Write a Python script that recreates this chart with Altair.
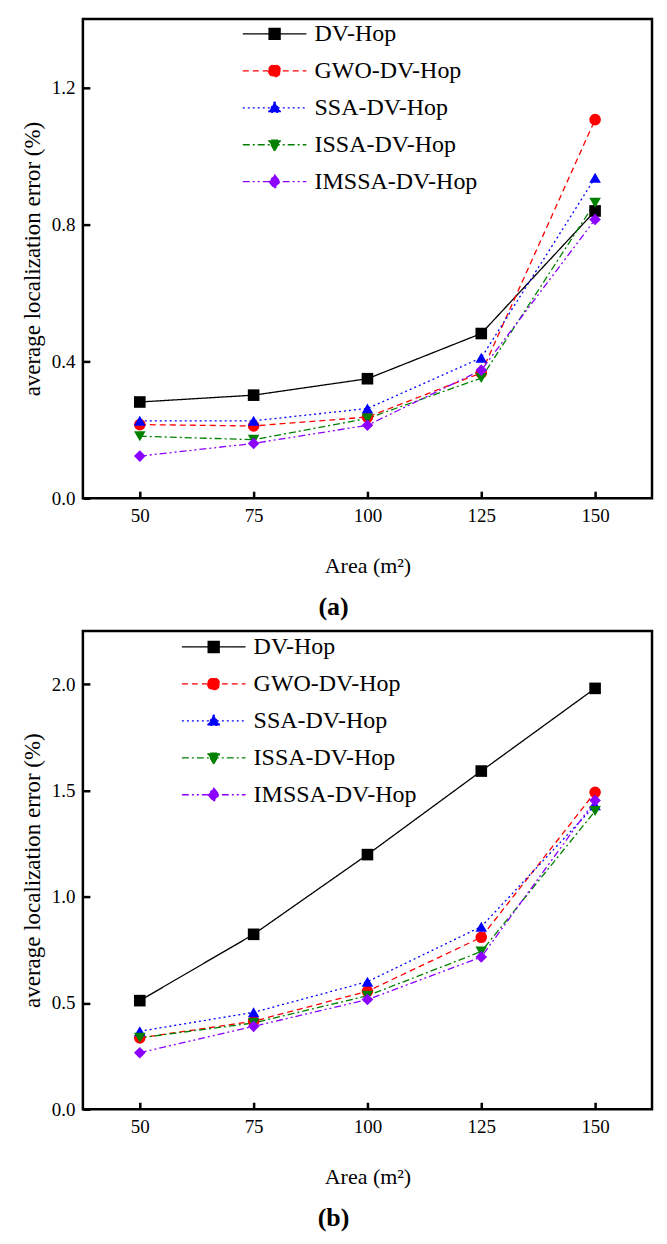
import altair as alt
import pandas as pd

# ---------------- data ----------------
areas = [50, 75, 100, 125, 150]
series = ["DV-Hop", "GWO-DV-Hop", "SSA-DV-Hop", "ISSA-DV-Hop", "IMSSA-DV-Hop"]

a_dv = [0.281, 0.301, 0.349, 0.481, 0.839]
a_gwo = [0.215, 0.211, 0.237, 0.366, 1.106]
a_ssa = [0.226, 0.226, 0.262, 0.410, 0.936]
a_issa = [0.181, 0.171, 0.233, 0.351, 0.863]
a_imssa = [0.123, 0.160, 0.213, 0.374, 0.814]

b_dv = [0.511, 0.823, 1.198, 1.591, 1.980]
b_gwo = [0.336, 0.414, 0.555, 0.809, 1.491]
b_ssa = [0.367, 0.456, 0.600, 0.859, 1.430]
b_issa = [0.336, 0.406, 0.534, 0.742, 1.403]
b_imssa = [0.266, 0.390, 0.516, 0.716, 1.453]

x_ticks = [50, 75, 100, 125, 150]
a_y_ticks = [0.0, 0.4, 0.8, 1.2]
b_y_ticks = [0.0, 0.5, 1.0, 1.5, 2.0]

# ---------------- styles ----------------
colors = ["#000000", "#FF0000", "#0000FF", "#008000", "#8B00FF"]
dashes = [[1, 0], [6, 4], [2, 3], [7, 3, 2, 3], [7, 3, 2, 3, 2, 3]]
shapes = ["square", "circle", "triangle-up", "triangle-down", "diamond"]
# legend symbols: a line segment with the marker in the middle
leg_paths = [
    "M-4.9,0H4.9M-0.85,-0.85H0.85V0.85H-0.85Z",
    "M-4.9,0H4.9M-0.92,0A0.92,0.92,0,1,0,0.92,0A0.92,0.92,0,1,0,-0.92,0Z",
    "M-4.9,0H4.9M0,-0.95L0.95,0.7H-0.95Z",
    "M-4.9,0H4.9M0,0.95L0.95,-0.7H-0.95Z",
    "M-4.9,0H4.9M0,-1.05L0.85,0L0,1.05L-0.85,0Z",
]
FONT = "Liberation Serif"


def make_df(cols):
    rows = []
    for s, vals in zip(series, cols):
        for xv, yv in zip(areas, vals):
            rows.append({"area": xv, "value": yv, "series": s})
    return pd.DataFrame(rows)


def panel(df, ymax, yticks, label, lx, ly, h):
    xenc = alt.X(
        "area:Q",
        scale=alt.Scale(domain=[37.5, 162.5], nice=False, zero=False),
        axis=alt.Axis(
            values=x_ticks, title="Area (m²)", offset=-7, tickSize=7, tickWidth=2.5,
            tickColor="black", domain=False, grid=False, labelFont=FONT,
            labelFontSize=19, labelColor="black", labelPadding=8, labelFlush=False,
            titleFont=FONT, titleFontSize=22, titleFontWeight="normal",
            titleColor="black", titlePadding=30,
        ),
    )
    yenc = alt.Y(
        "value:Q",
        scale=alt.Scale(domain=[0, ymax], nice=False),
        axis=alt.Axis(
            values=yticks, format=".1f", title="average localization error (%)",
            offset=-7, tickSize=7, tickWidth=2.5, tickColor="black", domain=False,
            grid=False, labelFont=FONT, labelFontSize=19, labelColor="black",
            labelPadding=8, titleFont=FONT, titleFontSize=23,
            titleFontWeight="normal", titleColor="black", titlePadding=7,
        ),
    )
    layers = []
    for s, c, d in zip(series, colors, dashes):
        layers.append(
            alt.Chart(df).transform_filter(alt.datum.series == s)
            .mark_line(strokeWidth=1.3, color=c, strokeDash=d)
            .encode(x=xenc, y=yenc)
        )
    for s, c, sh in zip(series, colors, shapes):
        layers.append(
            alt.Chart(df).transform_filter(alt.datum.series == s)
            .mark_point(filled=True, size=135, opacity=1, color=c, shape=sh)
            .encode(x=xenc, y=yenc)
        )
    leg = alt.Legend(
        title=None, orient="none", legendX=lx, legendY=ly, labelFont=FONT,
        labelFontSize=24, labelFontWeight="normal", labelColor="black",
        labelLimit=400, symbolSize=169, symbolStrokeWidth=1.3, labelOffset=28,
        rowPadding=13, symbolOpacity=1,
    )
    layers.append(
        alt.Chart(df).mark_point(filled=True, strokeWidth=1.3, opacity=0).encode(
            x=xenc, y=yenc,
            fill=alt.Fill("series:N", scale=alt.Scale(domain=series, range=colors), legend=leg),
            stroke=alt.Stroke("series:N", scale=alt.Scale(domain=series, range=colors), legend=leg),
            shape=alt.Shape("series:N", scale=alt.Scale(domain=series, range=leg_paths), legend=leg),
            strokeDash=alt.StrokeDash("series:N", scale=alt.Scale(domain=series, range=dashes), legend=leg),
        )
    )
    return alt.layer(*layers).properties(
        width=570, height=h,
        title=alt.TitleParams(
            label, orient="bottom", font=FONT, fontSize=26, fontWeight="bold",
            color="black", offset=18, dx=-34, anchor="middle",
        ),
    )


pa = panel(make_df([a_dv, a_gwo, a_ssa, a_issa, a_imssa]), 1.4, a_y_ticks, "(a)", 180, 3, 480)
pb = panel(make_df([b_dv, b_gwo, b_ssa, b_issa, b_imssa]), 2.25, b_y_ticks, "(b)", 119, 4, 479)

chart = alt.vconcat(pa, pb, spacing=7).resolve_scale(
    fill="independent", stroke="independent", shape="independent", strokeDash="independent"
).resolve_legend(
    fill="independent", stroke="independent", shape="independent", strokeDash="independent"
).properties(
    padding={"left": 12, "top": 8, "right": 5, "bottom": 5},
    background="white",
).configure_view(stroke="black", strokeWidth=2.5)

chart.save("out.html", embed_options={"renderer": "svg", "actions": False})
